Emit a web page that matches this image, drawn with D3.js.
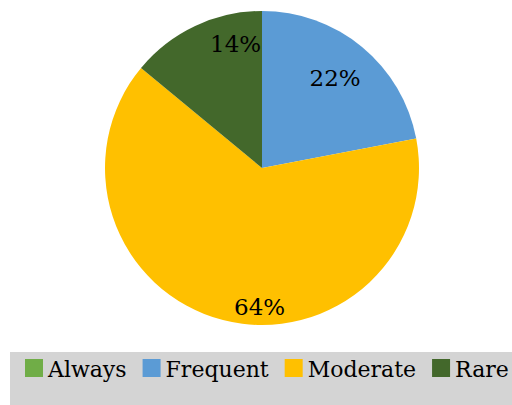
<!DOCTYPE html>
<html>
<head>
<meta charset="utf-8">
<script src="https://cdn.jsdelivr.net/npm/d3@7"></script>
<style>
    body { margin: 0; background: #fff; }
    svg { display: block; }
    text { font-family: "DejaVu Serif", serif; fill: #000; }
</style>
</head>
<body>
<div id="chart"></div>
<script>
// data
var categories = ["Always", "Frequent", "Moderate", "Rare"];
var shares = [0, 22, 64, 14];
var sliceColors = ["#70ad47", "#5b9bd5", "#ffc000", "#43682b"];

var width = 512, height = 405;
var cx = 262, cy = 168, radius = 157;

// where excel's "best fit" dropped the labels: [angle in degrees from 12 o'clock, fraction of radius]
var labelSpot = {
    Frequent: [39, 0.74],
    Moderate: [181, 0.885],
    Rare: [348, 0.81]
};

var svg = d3.select("#chart").append("svg")
    .attr("width", width)
    .attr("height", height);

var rows = categories.map(function (c, i) { return { name: c, value: shares[i], color: sliceColors[i] }; });

var pie = d3.pie()
    .sort(null)
    .value(function (d) { return d.value; });

var arc = d3.arc()
    .innerRadius(0)
    .outerRadius(radius);

var g = svg.append("g")
    .attr("transform", "translate(" + cx + "," + cy + ")");

var slices = pie(rows);

g.selectAll("path.slice")
    .data(slices)
    .enter().append("path")
    .attr("class", "slice")
    .attr("d", arc)
    .style("fill", function (d) { return d.data.color; });

g.selectAll("text.pct")
    .data(slices.filter(function (d) { return d.data.value > 0; }))
    .enter().append("text")
    .attr("class", "pct")
    .attr("transform", function (d) {
        var spot = labelSpot[d.data.name];
        var a = spot ? spot[0] * Math.PI / 180 : (d.startAngle + d.endAngle) / 2;
        var r = spot ? spot[1] * radius : radius * 0.7;
        return "translate(" + (Math.sin(a) * r) + "," + (-Math.cos(a) * r) + ")";
    })
    .attr("text-anchor", "middle")
    .attr("dy", "0.36em")
    .style("font-size", "23px")
    .text(function (d) { return d.data.value + "%"; });

// legend band
svg.append("rect")
    .attr("x", 10)
    .attr("y", 352)
    .attr("width", width - 10)
    .attr("height", height - 352)
    .style("fill", "#d4d4d4");

var legend = svg.append("g").attr("class", "legend");
var x = 25;
rows.forEach(function (d) {
    var item = legend.append("g").attr("transform", "translate(" + x + ",359)");
    item.append("rect")
        .attr("width", 18)
        .attr("height", 18)
        .style("fill", d.color);
    var t = item.append("text")
        .attr("x", 23)
        .attr("y", 18)
        .style("font-size", "22px")
        .text(d.name);
    x += 23 + t.node().getComputedTextLength() + 16;
});
</script>
</body>
</html>
